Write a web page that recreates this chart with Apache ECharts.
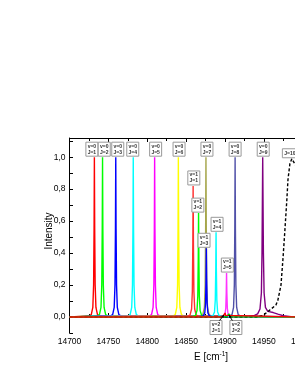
<!DOCTYPE html>
<html><head><meta charset="utf-8">
<script src="https://cdn.jsdelivr.net/npm/echarts@6/dist/echarts.min.js"></script>
<style>html,body{margin:0;padding:0;background:#fff}#c{width:295px;height:382px}</style>
</head><body><div id="c"></div><script>
// ---- data (E in cm^-1, normalized intensity) ----
const xMin = 14700, xMax = 15000, xStep = 50;
const yMin = -0.1, yMax = 1.12, yStep = 0.1;

const v0J1 = [[14700,0],[14725,0.006],[14728,0.015],[14730,0.06],[14731,0.2],[14731.6,0.55],[14732,1],[14732.4,0.55],[14733,0.2],[14734,0.06],[14736,0.015],[14739,0.006],[15000,0]];
const v0J2 = [[14700,0],[14735.5,0.006],[14738.5,0.015],[14740.5,0.06],[14741.5,0.2],[14742.1,0.55],[14742.5,1],[14742.9,0.55],[14743.5,0.2],[14744.5,0.06],[14746.5,0.015],[14749.5,0.006],[15000,0]];
const v0J3 = [[14700,0],[14752.5,0.006],[14755.5,0.015],[14757.5,0.06],[14758.5,0.2],[14759.1,0.55],[14759.5,1],[14759.9,0.55],[14760.5,0.2],[14761.5,0.06],[14763.5,0.015],[14766.5,0.006],[15000,0]];
const v0J4 = [[14700,0],[14775,0.006],[14778,0.015],[14780,0.06],[14781,0.2],[14781.6,0.55],[14782,1],[14782.4,0.55],[14783,0.2],[14784,0.06],[14786,0.015],[14789,0.006],[15000,0]];
const v0J5 = [[14700,0],[14802.5,0.006],[14805.5,0.015],[14807.5,0.06],[14808.5,0.2],[14809.1,0.55],[14809.5,1],[14809.9,0.55],[14810.5,0.2],[14811.5,0.06],[14813.5,0.015],[14816.5,0.006],[15000,0]];
const v0J6 = [[14700,0],[14833,0.006],[14836,0.015],[14838,0.06],[14839,0.2],[14839.6,0.55],[14840,1],[14840.4,0.55],[14841,0.2],[14842,0.06],[14844,0.015],[14847,0.006],[15000,0]];
const v0J7 = [[14700,0],[14868.5,0.006],[14871.5,0.015],[14873.5,0.06],[14874.5,0.2],[14875.1,0.55],[14875.5,1],[14875.9,0.55],[14876.5,0.2],[14877.5,0.06],[14879.5,0.015],[14882.5,0.006],[15000,0]];
const v0J8 = [[14700,0],[14906,0.006],[14909,0.015],[14911,0.06],[14912,0.2],[14912.6,0.55],[14913,1],[14913.4,0.55],[14914,0.2],[14915,0.06],[14917,0.015],[14920,0.006],[15000,0]];
const v0J9 = [[14700,0],[14930,0.003],[14938,0.01],[14942,0.02],[14945,0.05],[14946.8,0.15],[14947.6,0.4],[14948.5,1],[14949.4,0.4],[14950.3,0.15],[14952,0.06],[14955,0.035],[14962,0.028],[14968,0.018],[14975,0.008],[14985,0.002],[15000,0]];
const v1J1 = [[14700,0],[14852,0.005],[14855,0.012],[14857,0.05],[14858,0.16],[14858.6,0.45],[14859,0.82],[14859.4,0.45],[14860,0.16],[14861,0.05],[14863,0.012],[14866,0.005],[15000,0]];
const v1J2 = [[14700,0],[14859,0.004],[14862,0.01],[14864,0.04],[14865,0.13],[14865.6,0.36],[14866,0.65],[14866.4,0.36],[14867,0.13],[14868,0.04],[14870,0.01],[14873,0.004],[15000,0]];
const v1J3 = [[14700,0],[14869,0.003],[14872,0.006],[14874,0.026],[14875,0.086],[14875.6,0.24],[14876,0.43],[14876.4,0.24],[14877,0.086],[14878,0.026],[14880,0.006],[14883,0.003],[15000,0]];
const v1J4 = [[14700,0],[14881.5,0.003],[14884.5,0.008],[14886.5,0.032],[14887.5,0.106],[14888.1,0.29],[14888.5,0.53],[14888.9,0.29],[14889.5,0.106],[14890.5,0.032],[14892.5,0.008],[14895.5,0.003],[15000,0]];
const v1J5 = [[14700,0],[14895,0.002],[14898,0.004],[14900,0.017],[14901,0.055],[14901.6,0.15],[14902,0.275],[14902.4,0.15],[14903,0.055],[14904,0.017],[14906,0.004],[14909,0.002],[15000,0]];
const v2J1 = [[14700,0],[14897,0.002],[14899,0.01],[14900,0.025],[14901,0.01],[14903,0.002],[15000,0]];
const v2J2 = [[14700,0],[14902,0.002],[14904,0.008],[14905,0.02],[14906,0.008],[14908,0.002],[15000,0]];
const v0J10 = [[14700,0],[14940,0],[14949,0.01],[14958,0.045],[14965.5,0.075],[14968,0.105],[14972,0.2],[14974.5,0.36],[14977,0.54],[14979.5,0.73],[14981,0.86],[14983.5,0.96],[14986,0.99],[14988.5,0.98],[14992,0.94],[14996,0.88]];

// label anchors: [E, I, line1, line2]
const topLabels = [
  [14732,1,'v=0','J=1'],[14742.5,1,'v=0','J=2'],[14759.5,1,'v=0','J=3'],[14782,1,'v=0','J=4'],
  [14809.5,1,'v=0','J=5'],[14840,1,'v=0','J=6'],[14875.5,1,'v=0','J=7'],[14913,1,'v=0','J=8'],
  [14948.5,1,'v=0','J=9'],
  [14859,0.82,'v=1','J=1'],[14866,0.65,'v=1','J=2'],[14876,0.43,'v=1','J=3'],
  [14888.5,0.53,'v=1','J=4'],[14902,0.275,'v=1','J=5']
];
const bottomLabels = [[14900,0.025,'v=2','J=1'],[14905,0.02,'v=2','J=2']];
const dashLabel = [14986,0.99,'J=10'];

// ---- layout/style (not data) ----
const topShift = [-2.5,1.7,2,-0.5,1,0.7,1,0,0.5, 0.7,-0.7,-2.3,1,0.8];
const bottomShift = [-9,7];
const FONT = 'Liberation Sans, Arial, sans-serif';

const seriesDefs = [
  ['v0J1',v0J1,'#ff0000'],['v0J2',v0J2,'#00ff00'],['v0J3',v0J3,'#0000ff'],['v0J4',v0J4,'#00ffff'],
  ['v0J5',v0J5,'#ff00ff'],['v0J6',v0J6,'#ffff00'],['v0J7',v0J7,'#a5a54a'],['v0J8',v0J8,'#5050a8'],
  ['v0J9',v0J9,'#800080'],
  ['v1J1',v1J1,'#ff3030'],['v1J2',v1J2,'#00ff00'],['v1J3',v1J3,'#0000ff'],['v1J4',v1J4,'#00ffff'],
  ['v1J5',v1J5,'#ff33ff'],
  ['v0J10',v0J10,'#000000','dash'],
  ['v2J2',v2J2,'#00cc00'],['v2J1',v2J1,'#ff0000']
];

const chart = echarts.init(document.getElementById('c'), null, {renderer:'canvas'});
const gridLeft = 69.5, gridTop = 138, gridW = 233.25, gridH = 195;

const axisCommon = {
  axisLine:{show:true,lineStyle:{color:'#000',width:1}},
  splitLine:{show:false}
};

chart.setOption({
  animation:false,
  backgroundColor:'#fff',
  grid:{left:gridLeft,top:gridTop,width:gridW,height:gridH,containLabel:false,outerBoundsMode:'none'},
  xAxis:[
    Object.assign({type:'value',min:xMin,max:xMax,interval:xStep,position:'bottom',
      axisTick:{show:true,inside:true,length:4,lineStyle:{color:'#000'}},
      minorTick:{show:true,splitNumber:2,length:3,lineStyle:{color:'#000'}},
      axisLabel:{show:true,fontFamily:FONT,fontSize:8.5,color:'#000',margin:4,
        formatter:v=>String(Math.round(v)), showMaxLabel:true, showMinLabel:true, hideOverlap:false}
    },axisCommon),
    Object.assign({type:'value',min:xMin,max:xMax,interval:xStep,position:'top',
      axisTick:{show:true,inside:true,length:4,lineStyle:{color:'#000'}},
      minorTick:{show:true,splitNumber:2,length:3,lineStyle:{color:'#000'}},
      axisLabel:{show:false}},axisCommon)
  ],
  yAxis:[Object.assign({type:'value',min:yMin,max:yMax,interval:yStep,
    axisTick:{show:true,inside:true,length:3.5,lineStyle:{color:'#000'}},
    axisLabel:{show:true,interval:0,fontFamily:FONT,fontSize:8.5,color:'#000',margin:4,
      formatter:function(v){const r=Math.round(v*10); if(Math.abs(v*10-r)>0.01||r%2!==0||r<0) return ''; return (r/10).toFixed(1).replace('.',',');}}
  },axisCommon)],
  series: seriesDefs.map(d=>({
    name:d[0],type:'line',data:d[1],symbol:'none',showSymbol:false,smooth:false,
    xAxisIndex:0,yAxisIndex:0,clip:true,
    lineStyle:{color:d[2],width:1.4,type:d[3]==='dash'?[3,2]:'solid'},
    emphasis:{disabled:true}
  }))
});

function box(cx, top, w, h, text){
  return {type:'group',children:[
    {type:'rect',shape:{x:cx-w/2,y:top,width:w,height:h},style:{fill:'#fff',stroke:'#999',lineWidth:1},z:100},
    {type:'text',x:cx,y:top+h/2,style:{text:text,fontFamily:FONT,fontSize:5,fontWeight:'bold',lineHeight:6,
      fill:'#333',align:'center',verticalAlign:'middle'},z:101}
  ]};
}
const g = [];
topLabels.forEach((l,i)=>{
  const p = chart.convertToPixel({xAxisIndex:0,yAxisIndex:0},[l[0],l[1]]);
  g.push(box(p[0]+topShift[i], p[1]-15, 12, 14, l[2]+'\n'+l[3]));
});
bottomLabels.forEach((l,i)=>{
  const p = chart.convertToPixel({xAxisIndex:0,yAxisIndex:0},[l[0],0]);
  const cx = p[0]+bottomShift[i], top = p[1]+3.5;
  g.push(box(cx, top, 12, 14, l[2]+'\n'+l[3]));
  const sx = cx + (i===0?3.5:-3.5), sy = top;
  const ex = p[0] + (i===0?-1:0), ey = p[1]-2;
  g.push({type:'line',shape:{x1:sx,y1:sy,x2:ex,y2:ey},style:{stroke:'#000',lineWidth:1},z:102});
  const ang = Math.atan2(ey-sy, ex-sx), L=3;
  g.push({type:'polygon',shape:{points:[[ex,ey],
    [ex-L*Math.cos(ang-0.5),ey-L*Math.sin(ang-0.5)],
    [ex-L*Math.cos(ang+0.5),ey-L*Math.sin(ang+0.5)]]},style:{fill:'#000'},z:102});
});
(function(){
  const p = chart.convertToPixel({xAxisIndex:0,yAxisIndex:0},[dashLabel[0],dashLabel[1]]);
  g.push(box(p[0]-2, p[1]-10, 15, 9, dashLabel[2]));
})();
g.push({type:'text',x:49,y:231,rotation:Math.PI/2,style:{text:'Intensity',fontFamily:FONT,fontSize:10,fill:'#000',align:'center',verticalAlign:'middle'}});
g.push({type:'text',x:211,y:357,style:{text:'{n|E [cm}{s|-1}{n|]}',fontFamily:FONT,align:'center',verticalAlign:'middle',
  rich:{n:{fontFamily:FONT,fontSize:10,fill:'#000'},s:{fontFamily:FONT,fontSize:6.5,fill:'#000',verticalAlign:'top',padding:[0,0,6,0]}}}});
chart.setOption({graphic:g});
</script></body></html>
